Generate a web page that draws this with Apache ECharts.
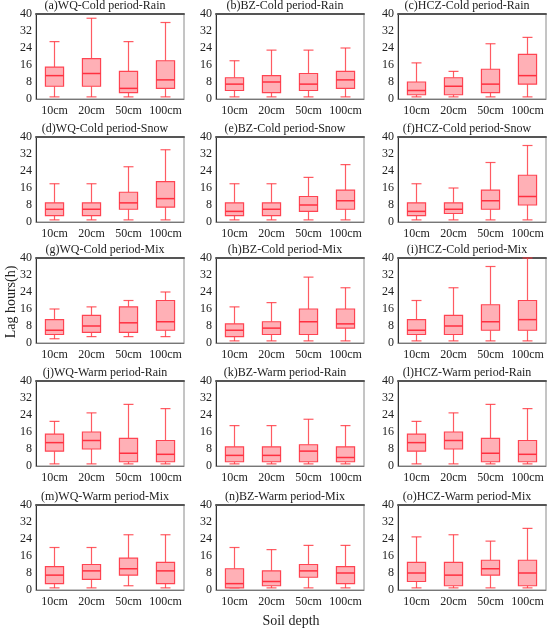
<!DOCTYPE html>
<html>
<head>
<meta charset="utf-8">
<script src="https://cdn.jsdelivr.net/npm/echarts@6/dist/echarts.min.js"></script>
<style>
  html, body { margin: 0; padding: 0; background: #fff; }
  #main { width: 550px; height: 633px; }
</style>
</head>
<body>
<div id="main"></div>
<script>
// soil depths on the x axis, y ticks
const depths = ['10cm', '20cm', '50cm', '100cm'];
const yTicks = [0, 8, 16, 24, 32, 40];

// panel titles, row by row
const titles = [
  '(a)WQ-Cold period-Rain', '(b)BZ-Cold period-Rain', '(c)HCZ-Cold period-Rain',
  '(d)WQ-Cold period-Snow', '(e)BZ-Cold period-Snow', '(f)HCZ-Cold period-Snow',
  '(g)WQ-Cold period-Mix', '(h)BZ-Cold period-Mix', '(i)HCZ-Cold period-Mix',
  '(j)WQ-Warm period-Rain', '(k)BZ-Warm period-Rain', '(l)HCZ-Warm period-Rain',
  '(m)WQ-Warm period-Mix', '(n)BZ-Warm period-Mix', '(o)HCZ-Warm period-Mix'
];

// each box: [min, Q1, median, Q3, max] for 10, 20, 50, 100 cm
const wqColdRain  = [[1, 6, 11, 15, 27], [1, 6, 12, 19, 38], [1, 3, 5, 13, 27], [1, 5, 9, 18, 36]];
const bzColdRain  = [[1, 4, 7, 10, 18], [1, 3, 8, 11, 23], [1, 4, 7, 12, 23], [1, 5, 9, 13, 24]];
const hczColdRain = [[1, 2, 4, 8, 17], [1, 2, 6, 10, 13], [1, 3, 7, 14, 26], [1, 7, 11, 21, 29]];
const wqColdSnow  = [[1, 3, 6, 9, 18], [1, 3, 6, 9, 18], [1, 6, 9, 14, 26], [1, 7, 11, 19, 34]];
const bzColdSnow  = [[1, 3, 5, 9, 18], [1, 3, 6, 9, 18], [1, 5, 8, 12, 21], [1, 6, 10, 15, 27]];
const hczColdSnow = [[1, 3, 5, 9, 18], [1, 4, 6, 9, 16], [1, 6, 10, 15, 28], [1, 8, 12, 22, 36]];
const wqColdMix   = [[2, 4, 6, 11, 16], [3, 5, 8, 13, 17], [3, 5, 9.5, 17, 20], [3, 6, 10, 20, 24]];
const bzColdMix   = [[1, 3, 6, 9, 17], [1, 4, 7, 10, 19], [1, 4, 10, 16, 31], [1, 7, 9, 16, 26]];
const hczColdMix  = [[1, 4, 6, 11, 20], [1, 4, 8, 13, 26], [1, 6, 10, 18, 36], [1, 6, 11, 20, 40]];
const wqWarmRain  = [[1, 7, 11, 15, 21], [1, 8, 12, 16, 25], [1, 2, 6, 13, 29], [1, 2, 5.5, 12, 27]];
const bzWarmRain  = [[1, 2, 5, 9, 19], [1, 2, 5, 9, 19], [1, 2, 7, 10, 22], [1, 2, 4, 9, 19]];
const hczWarmRain = [[1, 7, 11, 15, 21], [1, 8, 12, 16, 25], [1, 2, 6, 13, 29], [1, 2, 5.5, 12, 27]];
const wqWarmMix   = [[1, 3, 7, 11, 20], [1, 5, 9, 12, 20], [2, 7, 10, 15, 26], [1, 3, 9, 13, 26]];
const bzWarmMix   = [[1, 1, 3, 10, 20], [1, 2, 4, 9, 19], [1, 6, 9, 12, 21], [1, 3, 8, 11, 21]];
const hczWarmMix  = [[1, 4, 8, 13, 25], [1, 2, 7, 13, 26], [1, 7, 10, 14, 23], [1, 2, 8, 14, 29]];

const panels = [
  wqColdRain, bzColdRain, hczColdRain,
  wqColdSnow, bzColdSnow, hczColdSnow,
  wqColdMix, bzColdMix, hczColdMix,
  wqWarmRain, bzWarmRain, hczWarmRain,
  wqWarmMix, bzWarmMix, hczWarmMix
];

const FONT = "'Liberation Serif', 'Times New Roman', serif";
const colLeft = [36, 216, 398];
const rowTop = [14, 137, 258, 381, 505];
const gridW = 148, gridH = 85;

// box + whiskers drawn from the axis scales
function renderBox(params, api) {
  const x = api.value(0);
  const p = [1, 2, 3, 4, 5].map(d => api.coord([x, api.value(d)]));
  const cx = p[0][0];
  const band = api.size([1, 0])[0];
  const bw = band * 0.49, cw = band * 0.27;
  const yMin = p[0][1], yQ1 = p[1][1], yMed = p[2][1], yQ3 = p[3][1], yMax = p[4][1];
  const whisker = { stroke: 'rgba(255,50,60,0.8)', lineWidth: 1.2 };
  return {
    type: 'group',
    children: [
      { type: 'line', shape: { x1: cx, y1: yQ3, x2: cx, y2: yMax }, style: whisker },
      { type: 'line', shape: { x1: cx, y1: yQ1, x2: cx, y2: yMin }, style: whisker },
      { type: 'line', shape: { x1: cx - cw / 2, y1: yMax, x2: cx + cw / 2, y2: yMax }, style: whisker },
      { type: 'line', shape: { x1: cx - cw / 2, y1: yMin, x2: cx + cw / 2, y2: yMin }, style: whisker },
      { type: 'rect', shape: { x: cx - bw / 2, y: yQ3, width: bw, height: yQ1 - yQ3 },
        style: { fill: '#ffb0b6', stroke: '#ff4452', lineWidth: 1.2 } },
      { type: 'line', shape: { x1: cx - bw / 2, y1: yMed, x2: cx + bw / 2, y2: yMed },
        style: { stroke: '#ff3040', lineWidth: 1.5 } }
    ]
  };
}

const grid = [], xAxis = [], yAxis = [], series = [], title = [];
panels.forEach((boxes, i) => {
  const r = Math.floor(i / 3), c = i % 3;
  grid.push({
    left: colLeft[c], top: rowTop[r], width: gridW, height: gridH,
    show: true, borderColor: '#8a8a8a', borderWidth: 1, backgroundColor: '#fff'
  });
  xAxis.push({
    type: 'category', gridIndex: i, data: depths, position: 'bottom',
    axisLine: { lineStyle: { color: '#777', width: 1 } },
    axisTick: { show: false },
    axisLabel: { color: '#222', fontFamily: FONT, fontSize: 12, margin: 6, interval: 0 }
  });
  xAxis.push({
    type: 'category', gridIndex: i, data: depths, position: 'top',
    axisLine: { lineStyle: { color: '#555', width: 2 } },
    axisTick: { show: false }, axisLabel: { show: false }
  });
  yAxis.push({
    type: 'value', gridIndex: i, min: yTicks[0], max: yTicks[yTicks.length - 1],
    interval: yTicks[1] - yTicks[0],
    axisLine: { show: true, lineStyle: { color: '#333', width: 1 } },
    axisTick: { show: false },
    splitLine: { show: false },
    axisLabel: { color: '#222', fontFamily: FONT, fontSize: 12, margin: 4 }
  });
  series.push({
    type: 'custom', xAxisIndex: 2 * i, yAxisIndex: i,
    renderItem: renderBox,
    encode: { x: 0, y: [1, 2, 3, 4, 5] },
    data: boxes.map((b, k) => [k].concat(b))
  });
  title.push({
    text: titles[i], padding: 0,
    left: colLeft[c] + gridW / 2 - 5, top: rowTop[r] - 14, textAlign: 'center',
    textStyle: { fontFamily: FONT, fontSize: 12, fontWeight: 'normal', color: '#222' }
  });
});

const chart = echarts.init(document.getElementById('main'));
chart.setOption({
  animation: false,
  title,
  grid, xAxis, yAxis, series,
  graphic: [
    { type: 'text', x: 11, y: 302, rotation: Math.PI / 2,
      style: { text: 'Lag hours(h)', fontFamily: FONT, fontSize: 14, fill: '#222',
               textAlign: 'center', textVerticalAlign: 'middle' } },
    { type: 'text', x: 291, y: 621,
      style: { text: 'Soil depth', fontFamily: FONT, fontSize: 14, fill: '#222',
               textAlign: 'center', textVerticalAlign: 'middle' } }
  ]
});
</script>
</body>
</html>
